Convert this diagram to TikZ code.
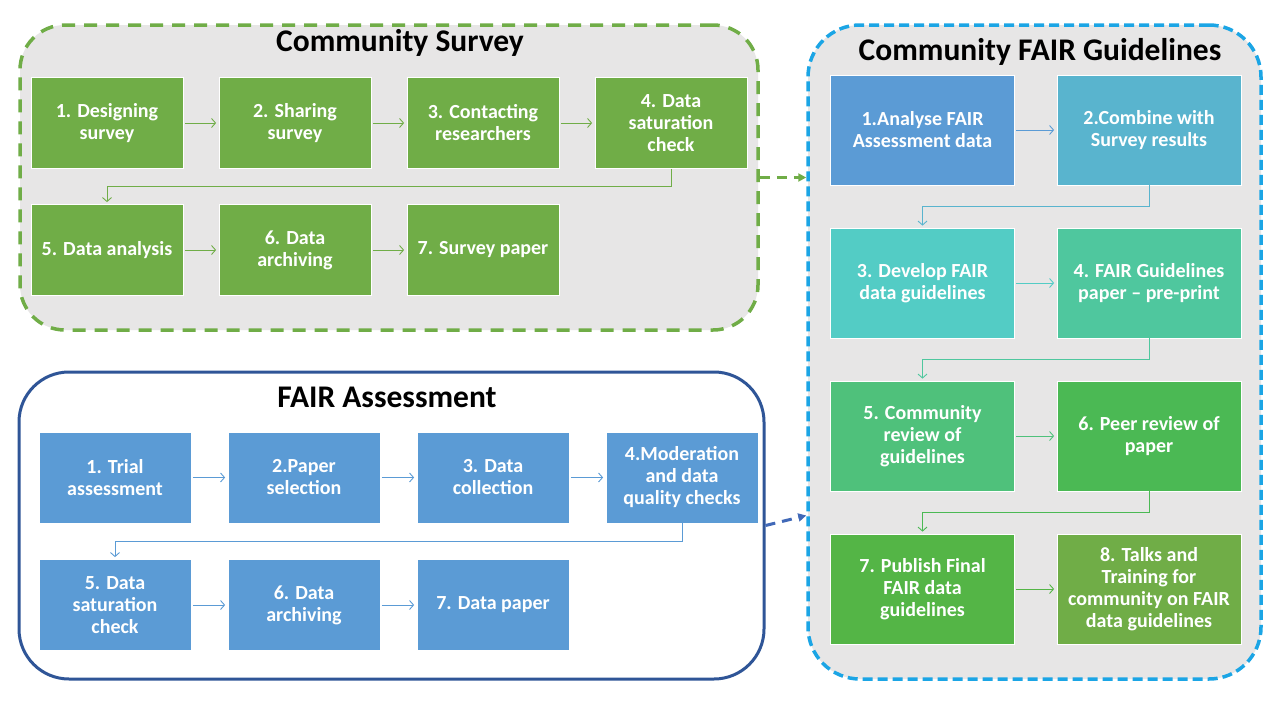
\documentclass[tikz,border=0pt]{standalone}
\usepackage{fontspec}
\setmainfont{Carlito}
\usetikzlibrary{arrows.meta,calc}

% palette
\definecolor{panelgray}{HTML}{E7E6E6}
\definecolor{surveygreen}{HTML}{70AD47}
\definecolor{assessblue}{HTML}{5B9BD5}
\definecolor{navy}{HTML}{2F5597}
\definecolor{skyblue}{HTML}{1BA5E5}
\definecolor{linkblue}{HTML}{4169B8}
\definecolor{gone}{HTML}{5B9BD5}
\definecolor{gtwo}{HTML}{59B4CE}
\definecolor{gthree}{HTML}{53CCC5}
\definecolor{gfour}{HTML}{4FC79E}
\definecolor{gfive}{HTML}{4FC17B}
\definecolor{gsix}{HTML}{4BB954}
\definecolor{gseven}{HTML}{54B546}
\definecolor{geight}{HTML}{70AD47}

\tikzset{
  stepbox/.style={rectangle, draw=white, line width=0.75pt, text=white,
    font=\fontsize{20}{22}\selectfont\bfseries, align=center, inner sep=0pt},
  smallbox/.style={stepbox, minimum width=152pt, minimum height=91pt},
  bigbox/.style={stepbox, minimum width=184pt, minimum height=110pt},
  flow/.style={line width=0.9pt, -{Straight Barb[length=4pt,width=9pt]},
    shorten <=1.5pt, shorten >=2.5pt},
  elbow/.style={line width=0.9pt, -{Straight Barb[length=4pt,width=9pt]},
    shorten >=2pt},
  paneltitle/.style={font=\fontsize{31.5}{36}\selectfont\bfseries, anchor=base, inner sep=0pt},
  link/.style={line width=3pt, dash pattern=on 10pt off 7pt,
    -{Triangle[length=8pt,width=8pt]}}
}

\begin{document}
\begin{tikzpicture}[x=1pt,y=-1pt]
\useasboundingbox (0,0) rectangle (1280,720);
\fill[white] (0,0) rectangle (1280,720);

% ---- containers ----
\node (survey) [draw=surveygreen, fill=panelgray, line width=3.5pt,
  dash pattern=on 13pt off 9pt, rounded corners=45pt,
  minimum width=738pt, minimum height=305pt, inner sep=0pt] at (389,177.5) {};
\node (guide) [draw=skyblue, fill=panelgray, line width=3.5pt,
  dash pattern=on 10pt off 5pt, rounded corners=52pt,
  minimum width=453pt, minimum height=654pt, inner sep=0pt] at (1034.5,352) {};
\node (assess) [draw=navy, fill=white, line width=3pt, rounded corners=50pt,
  minimum width=745pt, minimum height=307pt, inner sep=0pt] at (391.5,525.5) {};

% ---- titles ----
\node (survey-title) [paneltitle] at (400,51.5) {Community Survey};
\node (guide-title) [paneltitle] at (1040,60) {Community FAIR Guidelines};
\node (assess-title) [paneltitle] at (387,407) {FAIR Assessment};

% ---- Community Survey steps ----
\node (s1) [smallbox, fill=surveygreen] at (107,123) {1. Designing\\survey};
\node (s2) [smallbox, fill=surveygreen] at (295,123) {2. Sharing\\survey};
\node (s3) [smallbox, fill=surveygreen] at (483,123) {3. Contacting\\researchers};
\node (s4) [smallbox, fill=surveygreen] at (671,123) {4. Data\\saturation\\check};
\node (s5) [smallbox, fill=surveygreen] at (107,250) {5. Data analysis};
\node (s6) [smallbox, fill=surveygreen] at (295,250) {6. Data\\archiving};
\node (s7) [smallbox, fill=surveygreen] at (483,250) {7. Survey paper};

\draw[flow, surveygreen] (s1) -- (s2);
\draw[flow, surveygreen] (s2) -- (s3);
\draw[flow, surveygreen] (s3) -- (s4);
\coordinate (s-mid) at ($(s4.south)!0.5!(s5.north)$);
\draw[elbow, surveygreen] (s4.south) -- (s4.south |- s-mid) -| (s5.north);
\draw[flow, surveygreen] (s5) -- (s6);
\draw[flow, surveygreen] (s6) -- (s7);

% ---- FAIR Assessment steps ----
\node (a1) [smallbox, fill=assessblue] at (115,477.5) {1. Trial\\assessment};
\node (a2) [smallbox, fill=assessblue] at (304,477.5) {2.Paper\\selection};
\node (a3) [smallbox, fill=assessblue] at (493,477.5) {3. Data\\collection};
\node (a4) [smallbox, fill=assessblue] at (682,477.5) {4.Moderation\\and data\\quality checks};
\node (a5) [smallbox, fill=assessblue] at (115,605) {5. Data\\saturation\\check};
\node (a6) [smallbox, fill=assessblue] at (304,605) {6. Data\\archiving};
\node (a7) [smallbox, fill=assessblue] at (493,605) {7. Data paper};

\draw[flow, assessblue] (a1) -- (a2);
\draw[flow, assessblue] (a2) -- (a3);
\draw[flow, assessblue] (a3) -- (a4);
\coordinate (a-mid) at ($(a4.south)!0.5!(a5.north)$);
\draw[elbow, assessblue] (a4.south) -- (a4.south |- a-mid) -| (a5.north);
\draw[flow, assessblue] (a5) -- (a6);
\draw[flow, assessblue] (a6) -- (a7);

% ---- Community FAIR Guidelines steps ----
\node (g1) [bigbox, fill=gone] at (922.5,130) {1.Analyse FAIR\\Assessment data};
\node (g2) [bigbox, fill=gtwo] at (1149,130) {2.Combine with\\Survey results};
\node (g3) [bigbox, fill=gthree] at (922.5,283) {3. Develop FAIR\\data guidelines};
\node (g4) [bigbox, fill=gfour] at (1149,283) {4. FAIR Guidelines\\paper -- pre-print};
\node (g5) [bigbox, fill=gfive] at (922.5,436) {5. Community\\review of\\guidelines};
\node (g6) [bigbox, fill=gsix] at (1149,436) {6. Peer review of\\paper};
\node (g7) [bigbox, fill=gseven] at (922.5,589) {7. Publish Final\\FAIR data\\guidelines};
\node (g8) [bigbox, fill=geight] at (1149,589) {8. Talks and\\Training for\\community on FAIR\\data guidelines};

\draw[flow, gone] (g1) -- (g2);
\coordinate (g-mid1) at ($(g2.south)!0.5!(g3.north)$);
\draw[elbow, gtwo] (g2.south) -- (g2.south |- g-mid1) -| (g3.north);
\draw[flow, gthree] (g3) -- (g4);
\coordinate (g-mid2) at ($(g4.south)!0.5!(g5.north)$);
\draw[elbow, gfour] (g4.south) -- (g4.south |- g-mid2) -| (g5.north);
\draw[flow, gfive] (g5) -- (g6);
\coordinate (g-mid3) at ($(g6.south)!0.5!(g7.north)$);
\draw[elbow, gsix] (g6.south) -- (g6.south |- g-mid3) -| (g7.north);
\draw[flow, gseven] (g7) -- (g8);

% ---- links between panels ----
\draw[link, surveygreen] (survey.east) -- (survey.east -| guide.west);
\coordinate (assess-in) at ($(assess.east -| guide.west)+(0,-10)$);
\draw[link, linkblue] (assess.east) -- (assess-in);
\end{tikzpicture}
\end{document}
